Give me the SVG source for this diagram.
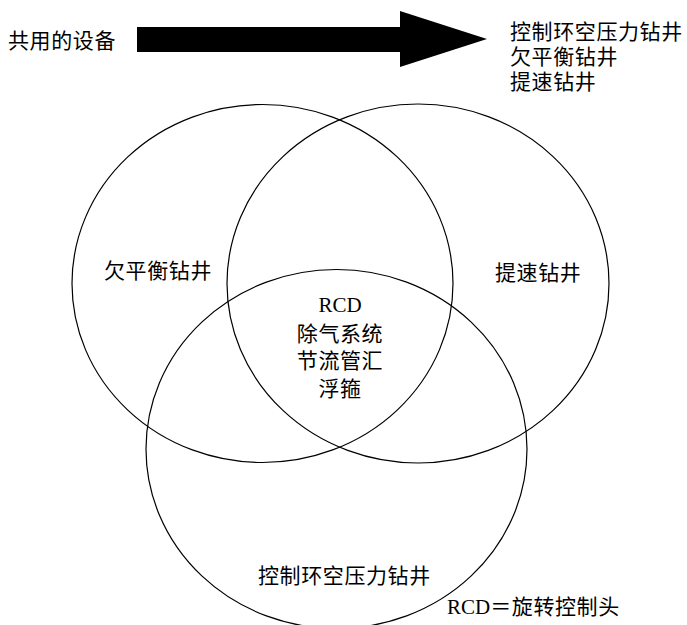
<svg xmlns="http://www.w3.org/2000/svg" width="687" height="625" viewBox="0 0 687 625">
<style>
.c{fill:none;stroke:#000;stroke-width:1.2}
.t{font-family:"Noto Sans CJK SC","Noto Sans CJK JP",sans-serif;font-size:21px;fill:#000;letter-spacing:0.6px}
.l{font-family:"Liberation Serif",serif;font-size:21px;fill:#000}
</style>
<rect width="687" height="625" fill="#fff"/>
<g id="connectors">
<polygon points="137,27 400,27 400,11 487,39 400,67 400,52 137,52" fill="#000"/>
</g>
<g id="header">
<text class="t" x="8" y="48">共用的设备</text>
<text class="t" x="510" y="39">控制环空压力钻井</text>
<text class="t" x="510" y="64">欠平衡钻井</text>
<text class="t" x="510" y="89">提速钻井</text>
</g>
<g id="circle-ubd">
<ellipse class="c" cx="262.5" cy="283.5" rx="190.5" ry="179"/>
<text class="t" x="104" y="278">欠平衡钻井</text>
</g>
<g id="circle-fast">
<ellipse class="c" cx="418" cy="283.5" rx="191" ry="179.5"/>
<text class="t" x="495" y="280">提速钻井</text>
</g>
<g id="circle-mpd">
<ellipse class="c" cx="336.5" cy="449" rx="190.5" ry="179.5"/>
<text class="t" x="258" y="583">控制环空压力钻井</text>
</g>
<g id="common">
<text class="l" x="340" y="312" text-anchor="middle">RCD</text>
<text class="t" x="340" y="341" text-anchor="middle">除气系统</text>
<text class="t" x="340" y="368" text-anchor="middle">节流管汇</text>
<text class="t" x="340" y="396" text-anchor="middle">浮箍</text>
</g>
<g id="legend">
<text x="447" y="614"><tspan class="l">RCD</tspan><tspan class="t">＝旋转控制头</tspan></text>
</g>
</svg>
